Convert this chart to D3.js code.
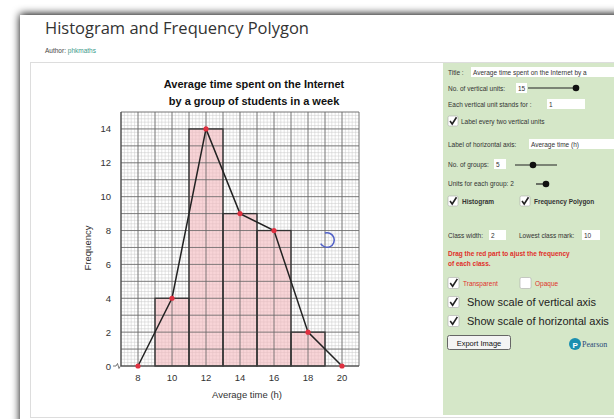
<!DOCTYPE html>
<html>
<head>
<meta charset="utf-8">
<title>Histogram and Frequency Polygon</title>
<script src="https://d3js.org/d3.v7.min.js"></script>
<style>
  body { margin: 0; background: #fff; font-family: "Liberation Sans", Arial, sans-serif; }
  svg { display: block; }
</style>
</head>
<body>
<svg id="chart" width="614" height="419"></svg>
<script>
// data
var classMarks = [10, 12, 14, 16, 18];
var frequencies = [4, 14, 9, 8, 2];
var classWidth = 2;
var polyX = [8, 10, 12, 14, 16, 18, 20];
var polyY = [0, 4, 14, 9, 8, 2, 0];
var xTicks = [8, 10, 12, 14, 16, 18, 20];
var yTicks = [0, 2, 4, 6, 8, 10, 12, 14];
var chartTitle = ["Average time spent on the Internet", "by a group of students in a week"];

var svg = d3.select("#chart");

// page frame with shadow
var defs = svg.append("defs");
var f = defs.append("filter").attr("id", "sh").attr("x", "-10%").attr("y", "-10%").attr("width", "120%").attr("height", "120%");
f.append("feGaussianBlur").attr("in", "SourceAlpha").attr("stdDeviation", 4);
f.append("feOffset").attr("dx", 0).attr("dy", -1).attr("result", "b");
var m = f.append("feMerge");
m.append("feMergeNode").attr("in", "b");
m.append("feMergeNode").attr("in", "SourceGraphic");

svg.append("rect").attr("x", 20).attr("y", 15).attr("width", 620).attr("height", 420)
  .attr("fill", "#fff").attr("filter", "url(#sh)").attr("opacity", 1);

svg.append("text").attr("x", 45).attr("y", 34)
  .style("font-family", "'Open Sans', sans-serif").style("font-size", "16.5px").attr("fill", "#333")
  .text("Histogram and Frequency Polygon");
var au = svg.append("text").attr("x", 45).attr("y", 53).style("font-size", "6.5px").attr("fill", "#444");
au.append("tspan").text("Author: ");
au.append("tspan").attr("fill", "#3a9a8a").text("phkmaths");

// content box
svg.append("rect").attr("x", 30.5).attr("y", 62.5).attr("width", 600).attr("height", 355)
  .attr("fill", "#fff").attr("stroke", "#ddd");

// chart
var x = d3.scaleLinear().domain([7, 21]).range([121, 359]);
var y = d3.scaleLinear().domain([0, 15]).range([366, 112]);

var g = svg.append("g");

// minor grid
var minorX = d3.range(7, 21.001, 0.2);
var minorY = d3.range(0, 15.001, 0.2);
g.selectAll(".mx").data(minorX).enter().append("line")
  .attr("x1", function(d) { return x(d); }).attr("x2", function(d) { return x(d); })
  .attr("y1", y(0)).attr("y2", y(15)).attr("stroke", "#c8c8c8").attr("stroke-width", 0.5);
g.selectAll(".my").data(minorY).enter().append("line")
  .attr("y1", function(d) { return y(d); }).attr("y2", function(d) { return y(d); })
  .attr("x1", x(7)).attr("x2", x(21)).attr("stroke", "#c8c8c8").attr("stroke-width", 0.5);

// bars
g.selectAll(".bar").data(classMarks).enter().append("rect")
  .attr("x", function(d) { return x(d - classWidth / 2); })
  .attr("y", function(d, i) { return y(frequencies[i]); })
  .attr("width", function(d) { return x(d + classWidth / 2) - x(d - classWidth / 2); })
  .attr("height", function(d, i) { return y(0) - y(frequencies[i]); })
  .attr("fill", "#f4b8bc").attr("fill-opacity", 0.6);

// major grid
var majorX = d3.range(7, 22, 1);
var majorY = d3.range(0, 16, 1);
g.selectAll(".Mx").data(majorX).enter().append("line")
  .attr("x1", function(d) { return x(d); }).attr("x2", function(d) { return x(d); })
  .attr("y1", y(0)).attr("y2", y(15)).attr("stroke", "#666").attr("stroke-width", 0.8);
g.selectAll(".My").data(majorY).enter().append("line")
  .attr("y1", function(d) { return y(d); }).attr("y2", function(d) { return y(d); })
  .attr("x1", x(7)).attr("x2", x(21)).attr("stroke", "#666").attr("stroke-width", 0.8);

// bar outlines
g.selectAll(".barO").data(classMarks).enter().append("rect")
  .attr("x", function(d) { return x(d - classWidth / 2); })
  .attr("y", function(d, i) { return y(frequencies[i]); })
  .attr("width", function(d) { return x(d + classWidth / 2) - x(d - classWidth / 2); })
  .attr("height", function(d, i) { return y(0) - y(frequencies[i]); })
  .attr("fill", "none").attr("stroke", "#333").attr("stroke-width", 1.3);

// axes lines
g.append("line").attr("x1", x(7)).attr("x2", x(21)).attr("y1", y(0)).attr("y2", y(0)).attr("stroke", "#444").attr("stroke-width", 1);
g.append("line").attr("x1", x(7)).attr("x2", x(7)).attr("y1", y(0)).attr("y2", y(15)).attr("stroke", "#444").attr("stroke-width", 1);

// axis break zigzag
g.append("path").attr("d", "M113," + y(0) + " L116," + y(0) + " L117.5," + (y(0) - 2.5) + " L119," + (y(0) + 2.5) + " L120.5," + y(0) + " L121," + y(0))
  .attr("fill", "none").attr("stroke", "#555").attr("stroke-width", 0.8);

// frequency polygon
var pts = polyX.map(function(d, i) { return [x(d), y(polyY[i])]; });
g.append("path").attr("d", d3.line()(pts)).attr("fill", "none").attr("stroke", "#222").attr("stroke-width", 1.5);
g.selectAll(".pt").data(pts).enter().append("circle")
  .attr("cx", function(d) { return d[0]; }).attr("cy", function(d) { return d[1]; })
  .attr("r", 2.6).attr("fill", "#e03040");

// tick labels
g.selectAll(".xt").data(xTicks).enter().append("text")
  .attr("x", function(d) { return x(d); }).attr("y", y(0) + 15)
  .attr("text-anchor", "middle").style("font-size", "9.5px").attr("fill", "#333").text(function(d) { return d; });
g.selectAll(".yt").data(yTicks).enter().append("text")
  .attr("x", 111).attr("y", function(d) { return y(d) + 3.5; })
  .attr("text-anchor", "end").style("font-size", "9.5px").attr("fill", "#333").text(function(d) { return d; });

// titles
g.selectAll(".ct").data(chartTitle).enter().append("text")
  .attr("x", 254).attr("y", function(d, i) { return 88 + i * 17; })
  .attr("text-anchor", "middle").style("font-size", "11px").style("font-weight", "bold").attr("fill", "#111")
  .text(function(d) { return d; });
g.append("text").attr("x", 247).attr("y", 398).attr("text-anchor", "middle")
  .style("font-size", "9.5px").attr("fill", "#333").text("Average time (h)");
g.append("text").attr("transform", "translate(91,248) rotate(-90)").attr("text-anchor", "middle")
  .style("font-size", "9.5px").attr("fill", "#333").text("Frequency");

// spinner
g.append("path").attr("d", d3.arc().innerRadius(6.5).outerRadius(8).startAngle(-0.3).endAngle(4.2)())
  .attr("transform", "translate(327,240)").attr("fill", "#5060c8");

// control panel
var p = svg.append("g");
p.append("rect").attr("x", 443).attr("y", 63).attr("width", 171).attr("height", 352).attr("fill", "#d5e7c8");

function label(xp, yp, t, size, col) {
  return p.append("text").attr("x", xp).attr("y", yp).style("font-size", (size || 6.5) + "px")
    .attr("fill", col || "#333").text(t);
}
function box(xp, yp, w, t) {
  p.append("rect").attr("x", xp).attr("y", yp - 7).attr("width", w).attr("height", 10).attr("fill", "#fff");
  if (t) label(xp + 2, yp + 0.5, t, 6.5);
}
function slider(x1, x2, k, yp) {
  p.append("line").attr("x1", x1).attr("x2", x2).attr("y1", yp).attr("y2", yp).attr("stroke", "#222").attr("stroke-width", 1.2);
  p.append("circle").attr("cx", k).attr("cy", yp).attr("r", 3.3).attr("fill", "#111");
}
function check(xp, yp, on, s) {
  s = s || 10;
  p.append("rect").attr("x", xp).attr("y", yp - s / 2).attr("width", s).attr("height", s).attr("rx", 1.5)
    .attr("fill", "#fff").attr("stroke", "#aaa").attr("stroke-width", 0.6);
  if (on) p.append("path").attr("d", "M" + (xp + s * 0.2) + "," + (yp) + " L" + (xp + s * 0.42) + "," + (yp + s * 0.3) + " L" + (xp + s * 0.85) + "," + (yp - s * 0.38))
    .attr("fill", "none").attr("stroke", "#222").attr("stroke-width", 1.6);
}

label(448, 75, "Title :");
box(471, 74, 145, "Average time spent on the Internet   by a");
label(448, 91, "No. of vertical units:");
box(516, 90, 11, "15");
slider(528, 577, 576, 88);
label(448, 107, "Each vertical unit stands for :");
box(547, 106, 38, "1");
check(448, 121, true);
label(461, 123.5, "Label every two vertical units");
label(448, 147, "Label of horizontal axis:");
box(529, 146, 85, "Average time (h)");
label(448, 167, "No. of groups:");
box(494, 166, 12, "5");
slider(515, 557, 533, 165);
label(448, 186, "Units for each group: 2");
slider(536, 548, 546, 184);
check(448, 201, true);
label(462, 203.5, "Histogram").style("font-weight", "bold");
check(520, 201, true);
label(534, 203.5, "Frequency Polygon").style("font-weight", "bold");
label(448, 238, "Class width:");
box(489, 237, 17, "2");
label(519, 238, "Lowest class mark:");
box(582, 237, 18, "10");
label(448, 256, "Drag the red part to ajust the frequency", 6.5, "#e0302a").style("font-weight", "bold");
label(448, 266, "of each class.", 6.5, "#e0302a").style("font-weight", "bold");
check(448, 283, true, 11);
label(463, 285.5, "Transparent", 6.5, "#e0302a");
check(520, 283, false, 11);
label(535, 285.5, "Opaque", 6.5, "#e0302a");
check(448, 302, true, 11);
label(467, 306, "Show scale of vertical axis", 11, "#222");
check(448, 321, true, 11);
label(467, 325, "Show scale of horizontal axis", 11, "#222");
p.append("rect").attr("x", 447.5).attr("y", 335.5).attr("width", 63).attr("height", 14).attr("rx", 2)
  .attr("fill", "#f4f4f4").attr("stroke", "#666");
label(479, 345.5, "Export Image", 7.5, "#111").attr("text-anchor", "middle");
p.append("circle").attr("cx", 575).attr("cy", 344).attr("r", 6).attr("fill", "#1a8fb0");
label(572.5, 347.5, "P", 8, "#fff").style("font-weight", "bold");
label(582, 347, "Pearson", 8, "#2a4a7a").style("font-family", "'Liberation Serif', serif");
</script>
</body>
</html>
